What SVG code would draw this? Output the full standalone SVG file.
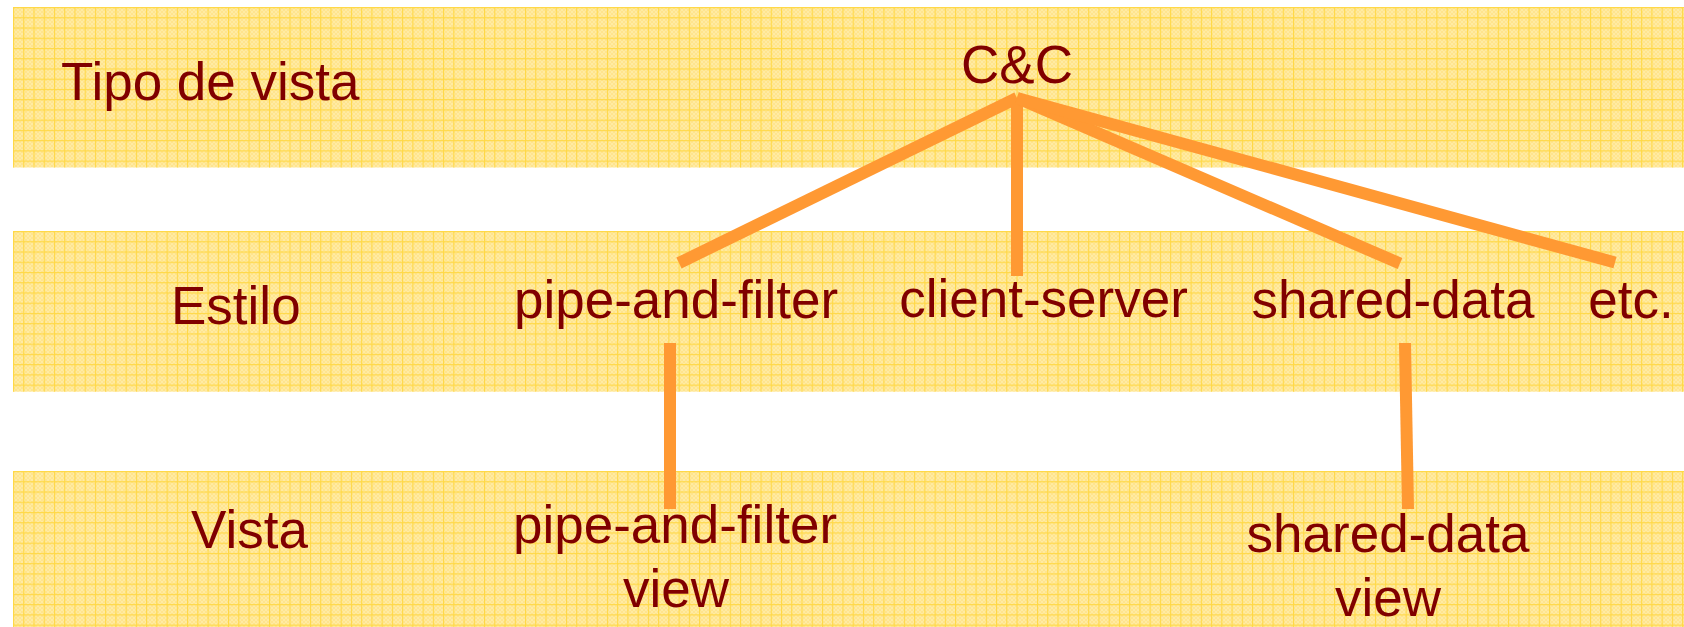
<svg xmlns="http://www.w3.org/2000/svg" width="1684" height="627" viewBox="0 0 1684 627">
  <defs>
    <style>
      .lbl { font-family: "Liberation Sans", Arial, sans-serif; font-size: 53px; fill: #800000; }
      .mid { text-anchor: middle; }
      .link { stroke: #FF9933; stroke-width: 12; fill: none; stroke-linecap: butt; }
      .band-fill { fill: url(#dots); }
      .band-grid { fill: url(#grid); }
    </style>
    <!-- fine dither texture of the paper -->
    <pattern id="dots" width="4" height="4" patternUnits="userSpaceOnUse">
      <rect width="4" height="4" fill="#FFEBA3"/>
      <rect width="2" height="2" fill="#FFE48E"/>
      <rect x="2" y="2" width="2" height="2" fill="#FFE48E"/>
    </pattern>
    <!-- graph-paper grid -->
    <pattern id="grid" width="10.24" height="10.24" patternUnits="userSpaceOnUse">
      <path d="M0 0.5 H10.24 M0.5 0 V10.24" stroke="#FFD845" stroke-width="1.2" fill="none"/>
    </pattern>
  </defs>

  <rect width="1684" height="627" fill="#FFFFFF"/>

  <!-- horizontal bands -->
  <g id="bands">
    <g transform="translate(13,7)">
      <rect class="band-fill" width="1671" height="160.5"/>
      <rect class="band-grid" width="1671" height="160.5"/>
    </g>
    <g transform="translate(13,231)">
      <rect class="band-fill" width="1671" height="160.7"/>
      <rect class="band-grid" width="1671" height="160.7"/>
    </g>
    <g transform="translate(13,471)">
      <rect class="band-fill" width="1671" height="156"/>
      <rect class="band-grid" width="1671" height="156"/>
    </g>
  </g>

  <!-- row headings -->
  <g id="row-tipo"><text class="lbl" x="61" y="100">Tipo de vista</text></g>
  <g id="row-estilo"><text class="lbl" x="171" y="324">Estilo</text></g>
  <g id="row-vista"><text class="lbl" x="191" y="548">Vista</text></g>

  <!-- connectors -->
  <g id="connectors">
    <line class="link" x1="1017" y1="98" x2="679" y2="263"/>
    <line class="link" x1="1017" y1="98" x2="1017" y2="276"/>
    <line class="link" x1="1017" y1="98" x2="1400" y2="263.5"/>
    <line class="link" x1="1017" y1="98" x2="1615" y2="262.5"/>
    <line class="link" x1="670" y1="343" x2="670" y2="509"/>
    <line class="link" x1="1405" y1="343" x2="1408" y2="509"/>
  </g>

  <!-- nodes -->
  <g id="node-cc"><text class="lbl mid" x="1017" y="83">C&amp;C</text></g>
  <g id="node-pipe-style"><text class="lbl mid" x="676" y="318">pipe-and-filter</text></g>
  <g id="node-client-server"><text class="lbl mid" x="1043.5" y="317">client-server</text></g>
  <g id="node-shared-style"><text class="lbl mid" x="1393" y="318">shared-data</text></g>
  <g id="node-etc"><text class="lbl mid" x="1631" y="318">etc.</text></g>
  <g id="node-pipe-view">
    <text class="lbl mid" x="675" y="543">pipe-and-filter</text>
    <text class="lbl mid" x="676" y="607">view</text>
  </g>
  <g id="node-shared-view">
    <text class="lbl mid" x="1388" y="552">shared-data</text>
    <text class="lbl mid" x="1388" y="616">view</text>
  </g>
</svg>
